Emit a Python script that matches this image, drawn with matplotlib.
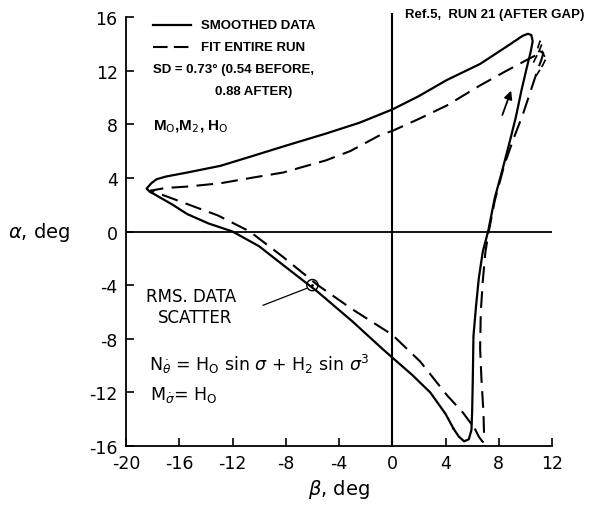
import matplotlib
matplotlib.use("Agg")
import matplotlib.pyplot as plt
from matplotlib.patches import Circle

# smoothed data (solid); starts at bottom cusp, runs up the right branch
beta_smooth = [4.6, 5.0, 5.4, 5.75, 5.95, 6.0, 6.05, 6.1, 6.3, 6.5, 6.8, 7.2, 7.7, 8.3, 8.9, 9.3,
               9.7, 10.1, 10.4, 10.55, 10.45, 10.2, 9.8, 8.6, 6.6, 4.1, 2.0, 0.0, -2.5, -5.0, -8.0,
               -10.6, -12.9, -15.4, -17.0, -17.7, -18.1, -18.45, -18.2, -17.9, -16.5, -15.4, -13.8,
               -12.0, -10.0, -8.2, -5.6, -3.0, -0.8, 0.0, 1.5, 2.85, 4.0, 4.6]
alpha_smooth = [-14.7, -15.3, -15.65, -15.5, -14.8, -13.5, -11.0, -7.8, -5.5, -3.5, -1.5, 0.0, 2.5,
                4.7, 7.0, 8.6, 10.5, 12.2, 13.4, 14.2, 14.65, 14.75, 14.6, 13.8, 12.5, 11.3, 10.1,
                9.1, 8.1, 7.3, 6.4, 5.6, 4.9, 4.4, 4.1, 3.9, 3.6, 3.2, 2.95, 2.8, 2.0, 1.3, 0.6, 0.0,
                -1.1, -2.5, -4.5, -6.7, -8.7, -9.4, -10.7, -12.0, -13.6, -14.7]

# fit over entire run (dashed)
beta_fit = [6.2, 6.5, 6.8, 6.9, 6.85, 6.7, 6.6, 6.65, 6.8, 7.0, 7.25, 7.7, 8.4, 9.1, 9.8, 10.4,
            10.9, 11.2, 11.35, 11.2, 10.9, 10.3, 8.6, 6.6, 4.1, 2.0, 0.0, -0.9, -3.15, -5.0, -8.2,
            -10.6, -12.9, -15.4, -17.0, -18.15, -16.9, -15.0, -13.1, -10.7, -8.2, -5.6, -3.0, 0.0,
            2.1, 4.1, 5.3, 6.2]
alpha_fit = [-14.7, -15.3, -15.7, -15.2, -13.5, -11.0, -8.7, -6.0, -3.7, -1.5, 0.0, 2.3, 4.9, 6.9,
             8.7, 10.5, 12.0, 12.8, 13.3, 13.5, 13.2, 12.9, 12.0, 10.9, 9.4, 8.4, 7.5, 7.2, 6.0,
             5.3, 4.4, 4.0, 3.6, 3.35, 3.25, 3.05, 2.6, 1.9, 1.2, 0.0, -1.9, -4.0, -5.8, -7.7,
             -9.7, -12.2, -13.5, -14.7]

# small curls of the fit near the upper-right turn
beta_curl = [10.6, 11.0, 11.25, 11.1, 10.9, 11.3, 11.55, 11.3, 10.8]
alpha_curl = [12.6, 13.4, 14.0, 14.2, 13.6, 13.3, 12.9, 12.4, 11.6]

xticks = [-20, -16, -12, -8, -4, 0, 4, 8, 12]
yticks = [-16, -12, -8, -4, 0, 4, 8, 12, 16]
xlabels = ['-20', '-16', '-12', '-8', '-4', '0', '4', '8', '12']
ylabels = ['-16', '-12', '-8', '-4', '0', '4', '8', '12', '16']

rms_point = (-6.0, -4.0)

plt.rcParams['font.family'] = ['DejaVu Sans']
narrow = ['Liberation Sans', 'DejaVu Sans']

fig = plt.figure(figsize=(6, 5.06), dpi=100)
ax = fig.add_axes([0.21, 0.1166, 0.71, 0.8478])

ax.plot(beta_smooth, alpha_smooth, color='black', lw=1.6, solid_joinstyle='round')
ax.plot(beta_fit, alpha_fit, color='black', lw=1.5, dashes=(8, 4))
ax.plot(beta_curl, alpha_curl, color='black', lw=1.2, dashes=(5, 2))

# axes through origin
ax.axhline(0, color='black', lw=1.3)
ax.plot([0, 0], [-16, 16.2], color='black', lw=1.5, clip_on=False)

# direction arrow
ax.annotate('', xy=(9.0, 10.7), xytext=(8.2, 8.5),
            arrowprops=dict(arrowstyle='-|>', color='black', lw=1.3, mutation_scale=12))

# rms scatter marker
ax.add_patch(Circle(rms_point, 0.42, fill=False, color='black', lw=1.0))
ax.plot([rms_point[0]], [rms_point[1]], marker='.', ms=2, color='black')
ax.plot([-9.7, -6.45], [-5.5, -4.25], color='black', lw=0.9)
ax.text(-18.5, -4.8, 'RMS. DATA', fontsize=12, va='center', ha='left')
ax.text(-17.6, -6.4, 'SCATTER', fontsize=12, va='center', ha='left')

# legend block
ax.plot([-17.95, -15.15], [15.4, 15.4], color='black', lw=1.6)
ax.plot([-17.95, -15.15], [13.8, 13.8], color='black', lw=1.5, dashes=(7, 3))
bold = dict(fontsize=9.5, family=narrow, weight='bold', va='center')
ax.text(-14.4, 15.4, 'SMOOTHED DATA', **bold)
ax.text(-14.4, 13.8, 'FIT ENTIRE RUN', **bold)
ax.text(-18.0, 12.1, 'SD = 0.73° (0.54 BEFORE,', **bold)
ax.text(-13.3, 10.5, '0.88 AFTER)', **bold)
ax.text(-18.0, 7.9, r'M$_\mathrm{O}$,M$_2$, H$_\mathrm{O}$', fontsize=11, family=narrow,
        weight='bold', va='center')

# equations
ax.text(-18.3, -9.85, r'N$_{\dot\theta}$ = H$_\mathrm{O}$ sin $\sigma$ + H$_2$ sin $\sigma^3$',
        fontsize=12.5, va='center')
ax.text(-18.2, -12.1, r'M$_{\dot\sigma}$= H$_\mathrm{O}$', fontsize=12.5, va='center')

fig.text(0.675, 0.97, 'Ref.5,  RUN 21 (AFTER GAP)', fontsize=9.5, family=narrow, weight='bold',
         va='center')

ax.set_xlim(-20, 12)
ax.set_ylim(-16, 16)
ax.set_xticks(xticks)
ax.set_xticklabels(xlabels)
ax.set_yticks(yticks)
ax.set_yticklabels(ylabels)
ax.tick_params(direction='in', length=6, width=1.2, labelsize=12.5, pad=6)
for s in ['top', 'right']:
    ax.spines[s].set_visible(False)
for s in ['left', 'bottom']:
    ax.spines[s].set_linewidth(1.3)

ax.set_xlabel(r'$\beta$, deg', fontsize=14, labelpad=3)
ax.set_ylabel(r'$\alpha$, deg', fontsize=14, rotation=0, labelpad=36, va='center')

fig.savefig('out.png', dpi=100)
